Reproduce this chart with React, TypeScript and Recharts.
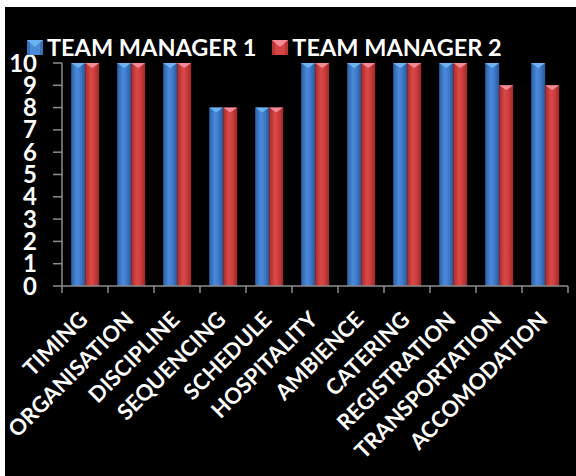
import React from "react";
import { BarChart, Bar, XAxis, YAxis, Legend } from "recharts";

const categories = [
  "TIMING",
  "ORGANISATION",
  "DISCIPLINE",
  "SEQUENCING",
  "SCHEDULE",
  "HOSPITALITY",
  "AMBIENCE",
  "CATERING",
  "REGISTRATION",
  "TRANSPORTATION",
  "ACCOMODATION",
];
const manager1 = [10, 10, 10, 8, 8, 10, 10, 10, 10, 10, 10];
const manager2 = [10, 10, 10, 8, 8, 10, 10, 10, 10, 9, 9];
const yTicks = [0, 1, 2, 3, 4, 5, 6, 7, 8, 9, 10];

const data = categories.map((name, i) => ({ name, tm1: manager1[i], tm2: manager2[i] }));

const FONT = "Lato, 'Open Sans', sans-serif";
const AXIS = "#8c8c8c";
const W = 571;
const H = 469;
const MARGIN = { top: 56, right: 8, bottom: 10, left: 0 };
const Y_WIDTH = 57;
const BAND = (W - MARGIN.left - MARGIN.right - Y_WIDTH) / categories.length;

const SERIES = {
  tm1: { label: "TEAM MANAGER 1", grad: "gBlue", top: "#6cb4f0", dark: "#2b5fa8", mid: "#4a8ad8" },
  tm2: { label: "TEAM MANAGER 2", grad: "gRed", top: "#f48a96", dark: "#a52b2b", mid: "#d64545" },
};

function makeShape(key: "tm1" | "tm2") {
  const s = SERIES[key];
  return (props: any) => {
    const { x, y, width, height } = props;
    if (!height || height <= 0) return <g />;
    return (
      <g>
        <rect x={x} y={y} width={width} height={height} fill={`url(#${s.grad})`} />
        <path d={`M${x},${y} L${x + width},${y} L${x + width / 2},${y + 5} Z`} fill={s.top} />
      </g>
    );
  };
}

function XTick(props: any) {
  const { x, y, payload, index } = props;
  const last = index === categories.length - 1;
  const tx = x + 4;
  const ty = y + 27;
  return (
    <g>
      <line x1={x - BAND / 2} y1={y - 8} x2={x - BAND / 2} y2={y - 1} stroke={AXIS} strokeWidth={1.5} />
      {last && (
        <line x1={x + BAND / 2} y1={y - 8} x2={x + BAND / 2} y2={y - 1} stroke={AXIS} strokeWidth={1.5} />
      )}
      <text
        x={tx}
        y={ty}
        transform={`rotate(-45, ${tx}, ${ty})`}
        textAnchor="end"
        fill="#fff"
        fontFamily={FONT}
        fontWeight={700}
        fontSize={22}
      >
        {payload.value}
      </text>
    </g>
  );
}

function LegendIcon({ k }: { k: "tm1" | "tm2" }) {
  const s = SERIES[k];
  return (
    <svg width={16} height={15} style={{ display: "block" }}>
      <rect x={0} y={0} width={16} height={15} fill={s.mid} />
      <rect x={0} y={0} width={3} height={15} fill={s.dark} opacity={0.6} />
      <rect x={13} y={0} width={3} height={15} fill={s.dark} opacity={0.6} />
      <path d="M0,0 L16,0 L8,7 Z" fill={s.top} />
    </svg>
  );
}

function LegendContent() {
  const item = (k: "tm1" | "tm2") => (
    <div style={{ display: "flex", alignItems: "center", gap: 4 }}>
      <LegendIcon k={k} />
      <span style={{ color: "#fff", fontFamily: FONT, fontWeight: 700, fontSize: 23.5, lineHeight: "28px" }}>
        {SERIES[k].label}
      </span>
    </div>
  );
  return (
    <div style={{ display: "flex", gap: 16 }}>
      {item("tm1")}
      {item("tm2")}
    </div>
  );
}

export default function App() {
  return (
    <div style={{ position: "absolute", left: 5, top: 7, width: W, height: H, background: "#000" }}>
      <BarChart width={W} height={H} data={data} margin={MARGIN} barCategoryGap="20%" barGap={0}>
        <defs>
          <linearGradient id="gBlue" x1="0" y1="0" x2="1" y2="0">
            <stop offset="0%" stopColor="#2b5fa8" />
            <stop offset="40%" stopColor="#4a8ad8" />
            <stop offset="65%" stopColor="#3f7ccb" />
            <stop offset="100%" stopColor="#2a569a" />
          </linearGradient>
          <linearGradient id="gRed" x1="0" y1="0" x2="1" y2="0">
            <stop offset="0%" stopColor="#a52b2b" />
            <stop offset="40%" stopColor="#da4848" />
            <stop offset="65%" stopColor="#cf3e3e" />
            <stop offset="100%" stopColor="#9c2828" />
          </linearGradient>
        </defs>
        <Legend
          verticalAlign="middle"
          align="center"
          content={<LegendContent />}
          wrapperStyle={{ top: 26, left: 22, width: "auto" }}
        />
        <XAxis
          dataKey="name"
          interval={0}
          height={180}
          axisLine={{ stroke: AXIS, strokeWidth: 1.5 }}
          tickLine={false}
          tick={<XTick />}
        />
        <YAxis
          domain={[0, 10]}
          ticks={yTicks}
          interval={0}
          width={Y_WIDTH}
          tickSize={9}
          tickMargin={16}
          axisLine={{ stroke: AXIS, strokeWidth: 1.5 }}
          tickLine={{ stroke: AXIS, strokeWidth: 1.5 }}
          tick={{ fill: "#fff", fontFamily: FONT, fontWeight: 700, fontSize: 24 }}
        />
        <Bar dataKey="tm1" name={SERIES.tm1.label} shape={makeShape("tm1")} isAnimationActive={false} />
        <Bar dataKey="tm2" name={SERIES.tm2.label} shape={makeShape("tm2")} isAnimationActive={false} />
      </BarChart>
    </div>
  );
}
